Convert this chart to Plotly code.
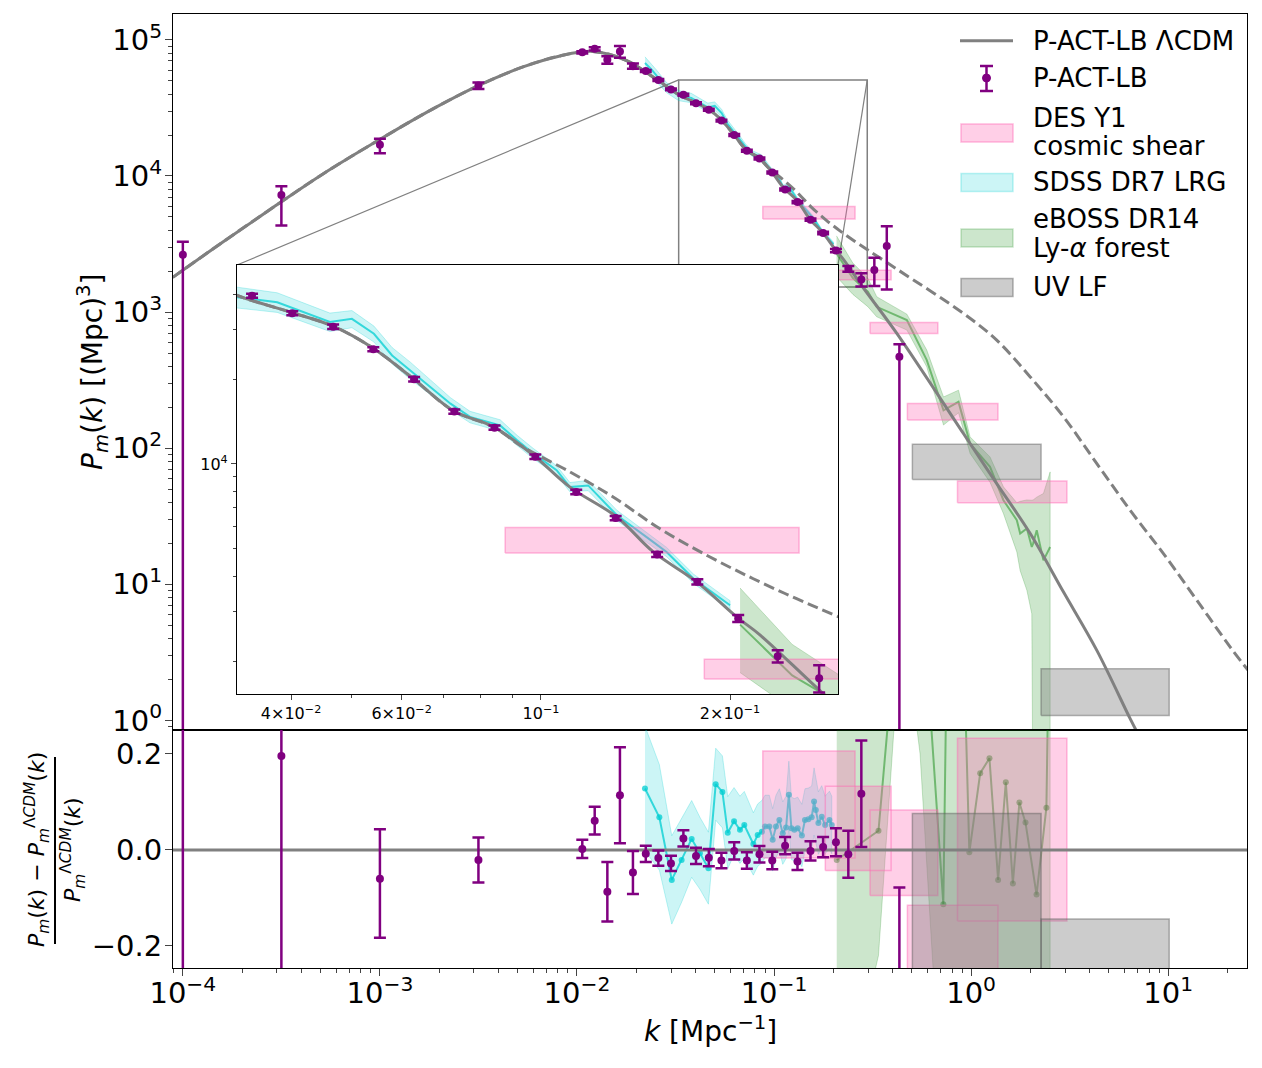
import numpy as np
import plotly.graph_objects as go

# ---------------- data ----------------
# P-ACT-LB LambdaCDM, linear (solid line)
lcdm_k = [8.89e-5, 1.596e-4, 2.864e-4, 5.14e-4, 9.97e-4, 1.858e-3, 3.141e-3, 5.32e-3, 8.20e-3,
          0.01205, 0.01786, 0.02541, 0.03281, 0.03990, 0.04677, 0.05420, 0.06266,
          0.07261, 0.08414, 0.09727, 0.1112, 0.1321, 0.1510, 0.1770, 0.2051, 0.2234, 0.2831,
          0.4198, 0.9141, 1.349, 1.995, 2.944, 4.345, 6.412, 6.918]
lcdm_P = [1799, 3273, 5861, 10351, 18535, 31117, 45920, 63241, 76208,
          82224, 70469, 51050, 39628, 34594, 30761, 25645, 20045,
          15417, 13521, 10740, 8279, 6486, 4875, 3819, 2864, 2472, 1514,
          697, 128.2, 54.95, 23.60, 8.77, 3.27, 1.03, 0.832]

# nonlinear model (dashed line), same as linear at large scales
nl_k = lcdm_k[:19] + [0.09268, 0.1112, 0.1303, 0.1545, 0.1837, 0.2178, 0.2553, 0.2992, 0.4198,
                      0.9141, 1.349, 1.995, 2.944, 4.345, 6.412, 9.462, 14.0, 20.65, 25.47]
nl_P = lcdm_P[:19] + [11641, 9376, 7638, 5902, 4742, 3917, 3327, 2858, 2070,
                      977, 622, 334, 170, 77.1, 35.0, 16.8, 7.62, 3.46, 2.33]

# P-ACT-LB reconstructed band powers
pact_k = [1.0e-4, 3.162e-4, 1.0e-3, 3.162e-3,
          0.01064, 0.01230, 0.01426, 0.01652, 0.01923, 0.02234, 0.02588, 0.02999, 0.03467, 0.04018,
          0.04667, 0.05408, 0.06281, 0.07278, 0.08433, 0.09795, 0.1138, 0.1315, 0.1531, 0.1774,
          0.2061, 0.2382, 0.2773, 0.3228, 0.3733, 0.4325]
pact_P = [2636, 7244, 16982, 46132,
          81096, 85901, 71285, 82035, 64121, 59020, 50699, 43251, 39537, 34277,
          30690, 25527, 19999, 15346, 13459, 10617, 7962, 6427, 4775, 3819,
          2831, 2080, 1738, 2042, 3055, 469]
# fractional errors (upper panel)
pact_fhi = [0.248, 0.159, 0.107, 0.052,
            0.019, 0.029, 0.062, 0.10, 0.045, 0.017, 0.016, 0.016, 0.017, 0.017,
            0.018, 0.016, 0.018, 0.017, 0.017, 0.018, 0.018, 0.018, 0.020, 0.021,
            0.029, 0.049, 0.111, 0.23, 0.40, 0.24]
pact_flo = [0.99999, 0.402, 0.135, 0.054,
            0.019, 0.029, 0.062, 0.10, 0.045, 0.017, 0.016, 0.016, 0.017, 0.017,
            0.018, 0.016, 0.018, 0.017, 0.017, 0.018, 0.018, 0.018, 0.020, 0.021,
            0.029, 0.049, 0.111, 0.24, 0.52, 0.99999]
# residuals w.r.t. LambdaCDM (lower panel)
pact_res = [0.29, 0.196, -0.060, -0.021,
            0.002, 0.061, -0.087, 0.114, -0.047, -0.008, -0.017, -0.028, 0.024, -0.0125,
            -0.016, -0.022, -0.002, -0.022, -0.009, -0.022, 0.009, -0.024, -0.002, 0.006,
            0.016, -0.009, 0.117, 0.52, 1.5, -0.30]
pact_res_hi = [0.32, 0.2, 0.103, 0.047,
               0.019, 0.029, 0.062, 0.10, 0.045, 0.017, 0.016, 0.016, 0.017, 0.017,
               0.018, 0.016, 0.018, 0.017, 0.017, 0.018, 0.018, 0.018, 0.020, 0.021,
               0.029, 0.049, 0.111, 0.2, 0.6, 0.222]
pact_res_lo = [1.0, 0.5, 0.123, 0.047,
               0.019, 0.029, 0.062, 0.10, 0.045, 0.017, 0.016, 0.016, 0.017, 0.017,
               0.018, 0.016, 0.018, 0.017, 0.017, 0.018, 0.018, 0.018, 0.020, 0.021,
               0.029, 0.049, 0.111, 0.2, 0.6, 1.0]

# SDSS DR7 LRG (upper panel)
sdss_k = [0.02213, 0.02399, 0.02541, 0.02851, 0.03281, 0.03802, 0.04613, 0.05000, 0.05420,
          0.05794, 0.06194, 0.06668, 0.07178, 0.07709, 0.08610, 0.09162, 0.09727, 0.1059,
          0.1112, 0.1189, 0.1321, 0.1510, 0.1585, 0.1750, 0.2000]
sdss_P = [67608, 60256, 54325, 44668, 39084, 37497, 31915, 32734, 28973,
          24266, 21478, 18750, 16368, 14689, 13709, 12134, 10889, 9506,
          8279, 8395, 6577, 5284, 4875, 3917, 3155]
sdss_f = [0.11, 0.10, 0.10, 0.085, 0.085, 0.08, 0.075, 0.07, 0.065,
          0.067, 0.07, 0.06, 0.05, 0.047, 0.047, 0.042, 0.042, 0.038,
          0.038, 0.042, 0.042, 0.038, 0.038, 0.038, 0.038]
# SDSS DR7 LRG residuals (lower panel)
sdss_rk = [0.02213, 0.02618, 0.03027, 0.03396, 0.03819, 0.04207, 0.04645, 0.05058, 0.05470,
           0.05821, 0.06266, 0.06714, 0.07063, 0.07852, 0.08260, 0.08670, 0.08995, 0.09462,
           0.09840, 0.1023, 0.1064, 0.1107, 0.1151, 0.1189, 0.1225, 0.1268, 0.1318, 0.1384,
           0.1435, 0.1493, 0.1552, 0.1596, 0.1629, 0.1679, 0.1746, 0.1816, 0.1910, 0.1963]
sdss_r = [0.128, 0.068, -0.0625, -0.021, 0.023, -0.007, -0.038, 0.137, 0.121,
          0.036, 0.060, 0.042, 0.052, 0.0125, 0.031, 0.038, 0.049, 0.049,
          0.021, 0.049, 0.0625, 0.035, 0.047, 0.115, 0.045, 0.042, 0.045, 0.030,
          0.0625, 0.064, 0.068, 0.101, 0.083, 0.056, 0.069, 0.052, 0.0625, 0.052]
sdss_rs = [0.13, 0.11, 0.092, 0.088, 0.08, 0.075, 0.075, 0.075, 0.075,
           0.075, 0.07, 0.07, 0.07, 0.065, 0.065, 0.065, 0.065, 0.065,
           0.065, 0.065, 0.065, 0.065, 0.065, 0.07, 0.065, 0.065, 0.065, 0.065,
           0.065, 0.065, 0.065, 0.07, 0.07, 0.065, 0.065, 0.06, 0.06, 0.06]

# eBOSS DR14 Ly-alpha forest (upper panel)
lya_k = [0.2075, 0.2512, 0.2992, 0.3319, 0.4721, 0.5957, 0.7244, 0.8630, 0.9886, 1.247,
         1.459, 1.706, 1.774, 1.919, 2.032, 2.065, 2.153, 2.328, 2.518]
lya_P = [2692, 1778, 1413, 1094, 873, 444, 190, 219, 108, 72.9,
         41.5, 29.6, 23.6, 25.7, 18.8, 20.0, 25.0, 15.0, 18.8]
lya_hi = [3631, 2291, 1778, 1297, 966, 526, 238, 267, 121, 86.3,
          52.0, 39.8, 40.7, 41.7, 41.5, 41.7, 43.7, 46.5, 67.0]
lya_lo = [1820, 1349, 1096, 923, 738, 396, 148, 182, 91.4, 56.2,
          33.1, 17.3, 12.6, 9.04, 6.08, 0.1, 0.1, 0.1, 0.1]
# eBOSS residuals (lower panel)
lya_rk = [0.2080, 0.3388, 0.4467, 0.5508, 0.7228, 0.7816, 0.8790, 0.9795, 1.112, 1.239,
          1.371, 1.500, 1.629, 1.758, 1.888, 2.148, 2.410, 2.518]
lya_r = [-0.021, 0.040, 0.6, 0.6, -0.113, 0.9, 0.7, -0.005, 0.160, 0.191,
         -0.0625, 0.141, -0.070, 0.099, 0.057, -0.093, 0.088, 0.6]
lya_rhi = [0.6, 0.6, 1.0, 1.0, 0.6, 1.5, 1.5, 0.6, 0.6, 0.6,
           0.6, 0.6, 0.6, 0.6, 0.6, 0.6, 0.6, 1.0]
lya_rlo = [-0.6, -0.22, 0.5, 0.2, -0.6, -0.6, -0.6, -0.6, -0.6, -0.6,
           -0.6, -0.6, -0.6, -0.6, -0.6, -0.6, -0.6, -0.6]

# DES Y1 cosmic shear boxes
des_klo = [0.0877, 0.182, 0.307, 0.475, 0.853]
des_khi = [0.2576, 0.3926, 0.6776, 1.368, 3.062]
des_Plo = [4831, 1726, 697, 161, 39.8]
des_Phi = [5957, 2028, 839, 213, 57.5]
des_rlo = [-0.017, -0.043, -0.095, -0.40, -0.148]
des_rhi = [0.206, 0.133, 0.083, -0.115, 0.233]

# UV luminosity function boxes
uv_klo = [0.5035, 2.265]
uv_khi = [2.265, 10.12]
uv_Plo = [58.9, 1.089]
uv_Phi = [106.9, 2.399]
uv_rlo = [-0.5, -0.5]
uv_rhi = [0.076, -0.144]

legend_labels = ["P-ACT-LB ΛCDM", "P-ACT-LB", "DES Y1", "cosmic shear", "SDSS DR7 LRG",
                 "eBOSS DR14", "Ly-<i>α</i> forest", "UV LF"]

# ---------------- styling ----------------
PURPLE = "purple"
GRAY = "gray"
PINK_F, PINK_L = "rgba(255,105,180,0.32)", "rgba(255,105,180,0.45)"
CYAN_F, CYAN_L = "rgba(0,206,209,0.2)", "rgba(0,206,209,0.75)"
GREEN_F, GREEN_L = "rgba(0,128,0,0.2)", "rgba(0,128,0,0.45)"
UV_F, UV_L = "rgba(128,128,128,0.4)", "rgba(90,90,90,0.45)"

main_xr = [-4.05, 1.40]
main_yr = [-0.07, 5.19]
res_yr = [-0.246, 0.25]
inset_xr = [-1.484, -0.527]
inset_yr = [3.184, 4.706]
split = 0.2495
inset_dom_x = [0.0596, 0.6192]
inset_dom_y = [0.2872, 0.7369]


def pp(px, py):
    # page pixel -> paper fraction (plot area spans x 173..1247, y 14..968)
    return (px - 173) / 1074, (968 - py) / 954


def box_path(klo, khi, ylo, yhi):
    xs, ys = [], []
    for a, b, c, d in zip(klo, khi, ylo, yhi):
        xs += [a, b, b, a, a, None]
        ys += [c, c, d, d, c, None]
    return xs, ys


def band_path(k, lo, hi):
    return list(k) + list(k)[::-1], list(hi) + list(lo)[::-1]


fig = go.Figure()


def add_power_panel(xa, ya):
    sP = np.array(sdss_P)
    sf = np.array(sdss_f)
    bx, by = band_path(sdss_k, sP * (1 - sf), sP * (1 + sf))
    fig.add_trace(go.Scatter(x=bx, y=by, fill="toself", fillcolor=CYAN_F, mode="lines",
                             line=dict(color="rgba(0,206,209,0.25)", width=1),
                             xaxis=xa, yaxis=ya))
    fig.add_trace(go.Scatter(x=sdss_k, y=sdss_P, mode="lines", line=dict(color=CYAN_L, width=2),
                             xaxis=xa, yaxis=ya))
    bx, by = band_path(lya_k, lya_lo, lya_hi)
    fig.add_trace(go.Scatter(x=bx, y=by, fill="toself", fillcolor=GREEN_F, mode="lines",
                             line=dict(color="rgba(0,128,0,0.2)", width=1),
                             xaxis=xa, yaxis=ya))
    fig.add_trace(go.Scatter(x=lya_k, y=lya_P, mode="lines", line=dict(color=GREEN_L, width=2),
                             xaxis=xa, yaxis=ya))
    bx, by = box_path(des_klo, des_khi, des_Plo, des_Phi)
    fig.add_trace(go.Scatter(x=bx, y=by, fill="toself", fillcolor=PINK_F, mode="lines",
                             line=dict(color=PINK_L, width=1.5), xaxis=xa, yaxis=ya))
    bx, by = box_path(uv_klo, uv_khi, uv_Plo, uv_Phi)
    fig.add_trace(go.Scatter(x=bx, y=by, fill="toself", fillcolor=UV_F, mode="lines",
                             line=dict(color=UV_L, width=1.5), xaxis=xa, yaxis=ya))
    fig.add_trace(go.Scatter(x=lcdm_k, y=lcdm_P, mode="lines", line=dict(color=GRAY, width=3),
                             line_shape="spline", xaxis=xa, yaxis=ya))
    fig.add_trace(go.Scatter(x=nl_k, y=nl_P, mode="lines",
                             line=dict(color=GRAY, width=3, dash="11px,5px"),
                             line_shape="spline", xaxis=xa, yaxis=ya))
    P = np.array(pact_P)
    fig.add_trace(go.Scatter(x=pact_k, y=pact_P, mode="markers",
                             marker=dict(color=PURPLE, size=8),
                             error_y=dict(type="data", symmetric=False,
                                          array=P * np.array(pact_fhi),
                                          arrayminus=P * np.array(pact_flo),
                                          color=PURPLE, thickness=2.5, width=6),
                             xaxis=xa, yaxis=ya))


# zoom rectangle on main panel (drawn first, under the data)
zx = [10 ** inset_xr[0], 10 ** inset_xr[1]]
zy = [10 ** inset_yr[0], 10 ** inset_yr[1]]
fig.add_trace(go.Scatter(x=[zx[0], zx[1], zx[1], zx[0], zx[0]],
                         y=[zy[0], zy[0], zy[1], zy[1], zy[0]], mode="lines",
                         line=dict(color=GRAY, width=1.5), xaxis="x", yaxis="y"))
add_power_panel("x", "y")

# ---- residual panel ----
bx, by = band_path(sdss_rk, np.array(sdss_r) - np.array(sdss_rs), np.array(sdss_r) + np.array(sdss_rs))
fig.add_trace(go.Scatter(x=bx, y=by, fill="toself", fillcolor=CYAN_F, mode="lines",
                         line=dict(color="rgba(0,206,209,0.25)", width=1),
                         xaxis="x2", yaxis="y2"))
fig.add_trace(go.Scatter(x=sdss_rk, y=sdss_r, mode="lines+markers",
                         line=dict(color=CYAN_L, width=2), marker=dict(color=CYAN_L, size=6),
                         xaxis="x2", yaxis="y2"))
bx, by = band_path(lya_rk, lya_rlo, lya_rhi)
fig.add_trace(go.Scatter(x=bx, y=by, fill="toself", fillcolor=GREEN_F, mode="lines",
                         line=dict(color="rgba(0,128,0,0.2)", width=1),
                         xaxis="x2", yaxis="y2"))
fig.add_trace(go.Scatter(x=lya_rk, y=lya_r, mode="lines+markers",
                         line=dict(color=GREEN_L, width=2), marker=dict(color=GREEN_L, size=6),
                         xaxis="x2", yaxis="y2"))
bx, by = box_path(des_klo, des_khi, des_rlo, des_rhi)
fig.add_trace(go.Scatter(x=bx, y=by, fill="toself", fillcolor=PINK_F, mode="lines",
                         line=dict(color=PINK_L, width=1.5), xaxis="x2", yaxis="y2"))
bx, by = box_path(uv_klo, uv_khi, uv_rlo, uv_rhi)
fig.add_trace(go.Scatter(x=bx, y=by, fill="toself", fillcolor=UV_F, mode="lines",
                         line=dict(color=UV_L, width=1.5), xaxis="x2", yaxis="y2"))
fig.add_trace(go.Scatter(x=[10 ** main_xr[0], 10 ** main_xr[1]], y=[0, 0], mode="lines",
                         line=dict(color=GRAY, width=3), xaxis="x2", yaxis="y2"))
fig.add_trace(go.Scatter(x=pact_k, y=pact_res, mode="markers",
                         marker=dict(color=PURPLE, size=8),
                         error_y=dict(type="data", symmetric=False, array=pact_res_hi,
                                      arrayminus=pact_res_lo, color=PURPLE,
                                      thickness=2.5, width=6),
                         xaxis="x2", yaxis="y2"))

# ---- inset: white backing, then the same content ----
pad = 0.02
wx = [10 ** (inset_xr[0] - pad), 10 ** (inset_xr[1] + pad)]
wy = [10 ** (inset_yr[0] - pad), 10 ** (inset_yr[1] + pad)]
fig.add_trace(go.Scatter(x=[wx[0], wx[1], wx[1], wx[0], wx[0]],
                         y=[wy[0], wy[0], wy[1], wy[1], wy[0]], mode="lines",
                         fill="toself", fillcolor="white", line=dict(width=0),
                         hoverinfo="skip", xaxis="x3", yaxis="y3"))
add_power_panel("x3", "y3")


def main_paper(lk, lp):
    px = (lk - main_xr[0]) / (main_xr[1] - main_xr[0])
    py = split + (lp - main_yr[0]) / (main_yr[1] - main_yr[0]) * (1 - split)
    return px, py


shapes = []
for lk, ix in [(inset_xr[0], inset_dom_x[0]), (inset_xr[1], inset_dom_x[1])]:
    px, py = main_paper(lk, inset_yr[1])
    shapes.append(dict(type="line", xref="paper", yref="paper", x0=px, y0=py,
                       x1=ix, y1=inset_dom_y[1], line=dict(color=GRAY, width=1.2), layer="below"))
# fraction bar of the residual label
x0, y0 = pp(55, 757)
x1, y1 = pp(55, 944)
shapes.append(dict(type="line", xref="paper", yref="paper", x0=x0, x1=x1, y0=y0, y1=y1,
                   line=dict(color="black", width=2)))

# ---- hand-drawn legend (symbols) ----
def seg(xa, ya, xb, yb, color, width):
    a, b = pp(xa, ya)
    c, d = pp(xb, yb)
    return dict(type="line", xref="paper", yref="paper", x0=a, y0=b, x1=c, y1=d,
                line=dict(color=color, width=width))


def rect(xa, ya, xb, yb, fill, line):
    a, b = pp(xa, ya)
    c, d = pp(xb, yb)
    return dict(type="rect", xref="paper", yref="paper", x0=a, y0=b, x1=c, y1=d,
                fillcolor=fill, line=dict(color=line, width=1.5))


shapes.append(seg(960, 40.7, 1013, 40.7, GRAY, 3))
shapes.append(seg(986.5, 66, 986.5, 91, PURPLE, 2.5))
shapes.append(seg(980, 66, 993, 66, PURPLE, 2.5))
shapes.append(seg(980, 91, 993, 91, PURPLE, 2.5))
ca, cb = pp(982.5, 74)
cc, cd = pp(990.5, 82)
shapes.append(dict(type="circle", xref="paper", yref="paper", x0=ca, y0=cb, x1=cc, y1=cd,
                   fillcolor=PURPLE, line=dict(color=PURPLE, width=1)))
shapes.append(rect(961, 124, 1013, 142, PINK_F, PINK_L))
shapes.append(rect(961, 173.5, 1013, 191.5, CYAN_F, "rgba(0,206,209,0.25)"))
shapes.append(rect(961, 229, 1013, 247, GREEN_F, "rgba(0,128,0,0.2)"))
shapes.append(rect(961, 278.5, 1013, 296.5, UV_F, UV_L))

annotations = []
for lab, yc in zip(legend_labels, [40.7, 78, 117.5, 146, 182, 219, 248, 287]):
    ax_, ay_ = pp(1031, yc)
    annotations.append(dict(text=lab, xref="paper", yref="paper", x=ax_, y=ay_,
                            xanchor="left", yanchor="middle", showarrow=False,
                            font=dict(size=26)))

for txt, (px, py), size, ang in [
        ("<i>P<sub>m</sub></i>(<i>k</i>) [(Mpc)<sup>3</sup>]", (92, 372), 28, -90),
        ("<i>k</i> [Mpc<sup>−1</sup>]", (710, 1029), 28, 0),
        ("<i>P<sub>m</sub></i>(<i>k</i>) − <i>P</i><sub><i>m</i></sub>"
         "<sup>Λ<i>CDM</i></sup>(<i>k</i>)", (37, 850), 22, -90),
        ("<i>P</i><sub><i>m</i></sub><sup>Λ<i>CDM</i></sup>(<i>k</i>)", (73, 850), 22, -90)]:
    ax_, ay_ = pp(px, py)
    annotations.append(dict(text=txt, xref="paper", yref="paper", x=ax_, y=ay_,
                            xanchor="center", yanchor="middle", textangle=ang,
                            showarrow=False, font=dict(size=size)))

maj_x = [1e-4, 1e-3, 1e-2, 1e-1, 1, 10]
maj_x_txt = ["10<sup>−4</sup>", "10<sup>−3</sup>", "10<sup>−2</sup>", "10<sup>−1</sup>",
             "10<sup>0</sup>", "10<sup>1</sup>"]
maj_y = [1, 10, 100, 1e3, 1e4, 1e5]
maj_y_txt = ["10<sup>0</sup>", "10<sup>1</sup>", "10<sup>2</sup>", "10<sup>3</sup>",
             "10<sup>4</sup>", "10<sup>5</sup>"]
minor_x = [m * 10.0 ** e for e in range(-5, 2) for m in range(2, 10)]
minor_y = [m * 10.0 ** e for e in range(-1, 6) for m in range(2, 10)]

frame = dict(showline=True, linecolor="black", linewidth=1.2, mirror=True,
             showgrid=False, zeroline=False)
tickf = dict(size=29, color="black")

fig.update_layout(
    width=1246, height=1052,
    margin=dict(l=165, r=7, t=6, b=92),
    paper_bgcolor="white", plot_bgcolor="white",
    font=dict(family="DejaVu Sans", color="black"),
    showlegend=False,
    shapes=shapes,
    annotations=annotations,
    xaxis=dict(type="log", range=main_xr, domain=[0, 1], anchor="y",
               showticklabels=False, ticks="", **frame),
    yaxis=dict(type="log", range=main_yr, domain=[split, 1], anchor="x",
               tickvals=maj_y, ticktext=maj_y_txt, ticks="outside", ticklen=7, tickwidth=1.2,
               ticklabelstandoff=-3,
               tickfont=tickf, minor=dict(tickvals=minor_y, ticks="outside", ticklen=4,
                                          tickwidth=1), **frame),
    xaxis2=dict(type="log", range=main_xr, domain=[0, 1], anchor="y2",
                tickvals=maj_x, ticktext=maj_x_txt, ticks="outside", ticklen=7, tickwidth=1.2,
                ticklabelstandoff=-8,
                tickfont=tickf, minor=dict(tickvals=minor_x, ticks="outside", ticklen=4,
                                           tickwidth=1), **frame),
    yaxis2=dict(range=res_yr, domain=[0, split], anchor="x2",
                tickvals=[-0.2, 0.0, 0.2], ticktext=["−0.2", "0.0", "0.2"],
                ticklabelstandoff=-3,
                ticks="outside", ticklen=7, tickwidth=1.2, tickfont=tickf, **frame),
    xaxis3=dict(type="log", range=inset_xr, domain=inset_dom_x, anchor="y3",
                tickvals=[0.04, 0.06, 0.1, 0.2],
                ticktext=["4×10<sup>−2</sup>", "6×10<sup>−2</sup>", "10<sup>−1</sup>",
                          "2×10<sup>−1</sup>"],
                ticks="outside", ticklen=5, tickwidth=1, tickfont=dict(size=16),
                minor=dict(tickvals=[0.05, 0.07, 0.08, 0.09], ticks="outside", ticklen=3),
                **frame),
    yaxis3=dict(type="log", range=inset_yr, domain=inset_dom_y, anchor="x3",
                tickvals=[1e4], ticktext=["10<sup>4</sup>"],
                ticks="outside", ticklen=5, tickwidth=1, tickfont=dict(size=16),
                minor=dict(tickvals=[2e3, 3e3, 4e3, 5e3, 6e3, 7e3, 8e3, 9e3, 2e4, 3e4, 4e4],
                           ticks="outside", ticklen=3), **frame),
)

fig.write_html("out.html")
